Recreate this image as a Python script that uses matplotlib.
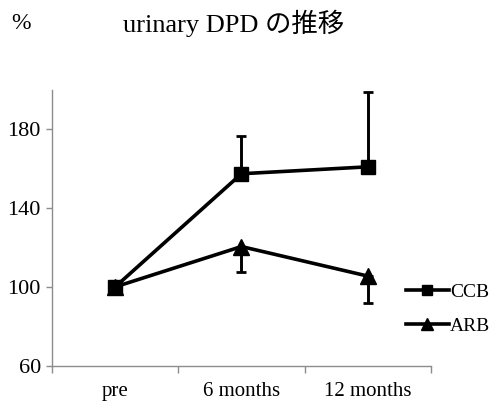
import numpy as np
import matplotlib
matplotlib.use("Agg")
import matplotlib.pyplot as plt
from matplotlib.lines import Line2D

plt.rcParams['font.family'] = ['Liberation Serif', 'Noto Sans CJK JP']

categories = ['pre', '6 months', '12 months']
ccb = [100, 157.5, 161]
ccb_err = [2, 19, 38]
arb = [100, 120.5, 105.5]
arb_err = [2, 13, 13.5]

fig = plt.figure(figsize=(4.94, 4.04), dpi=100)
ax = fig.add_axes([0.1053, 0.095, 0.767, 0.682])

x = np.arange(len(categories))

# Excel style: CCB bars only upward, ARB only downward
ax.errorbar(x, ccb, yerr=[np.zeros(3), ccb_err], color='black', lw=2.6,
            marker='s', ms=10.5, capsize=3.6, capthick=2, elinewidth=2.1, zorder=3)
ax.errorbar(x, arb, yerr=[arb_err, np.zeros(3)], color='black', lw=2.6,
            marker='^', ms=11, capsize=3.6, capthick=2, elinewidth=2.1, zorder=3)

ax.set_xlim(-0.5, 2.5)
ax.set_ylim(60, 200)
ax.set_yticks([60, 100, 140, 180])
ax.set_xticks(x)
ax.set_xticklabels(categories)
ax.set_xticks([-0.5, 0.5, 1.5, 2.5], minor=True)
ax.tick_params(axis='x', which='major', length=0, pad=12, labelsize=15)
ax.tick_params(axis='x', which='minor', length=5, color='#8c8c8c', width=1)
ax.tick_params(axis='y', length=4, color='#8c8c8c', width=1, labelsize=16, pad=4)

for s in ['top', 'right']:
    ax.spines[s].set_visible(False)
for s in ['left', 'bottom']:
    ax.spines[s].set_color('#8c8c8c')
    ax.spines[s].set_linewidth(1)

handles = [Line2D([], [], color='black', lw=2.6, marker='s', ms=7.5),
           Line2D([], [], color='black', lw=2.6, marker='^', ms=8.5)]
fig.legend(handles, ['CCB', 'ARB'], loc='center left', bbox_to_anchor=(0.822, 0.235),
           frameon=False, fontsize=14, handlelength=2.2, handletextpad=0.05,
           labelspacing=0.85, borderpad=0, borderaxespad=0)

fig.text(0.472, 0.943, 'urinary DPD の推移', ha='center', va='center', fontsize=19)
fig.text(0.022, 0.943, '%', ha='left', va='center', fontsize=17)

fig.savefig('out.png', dpi=100)
